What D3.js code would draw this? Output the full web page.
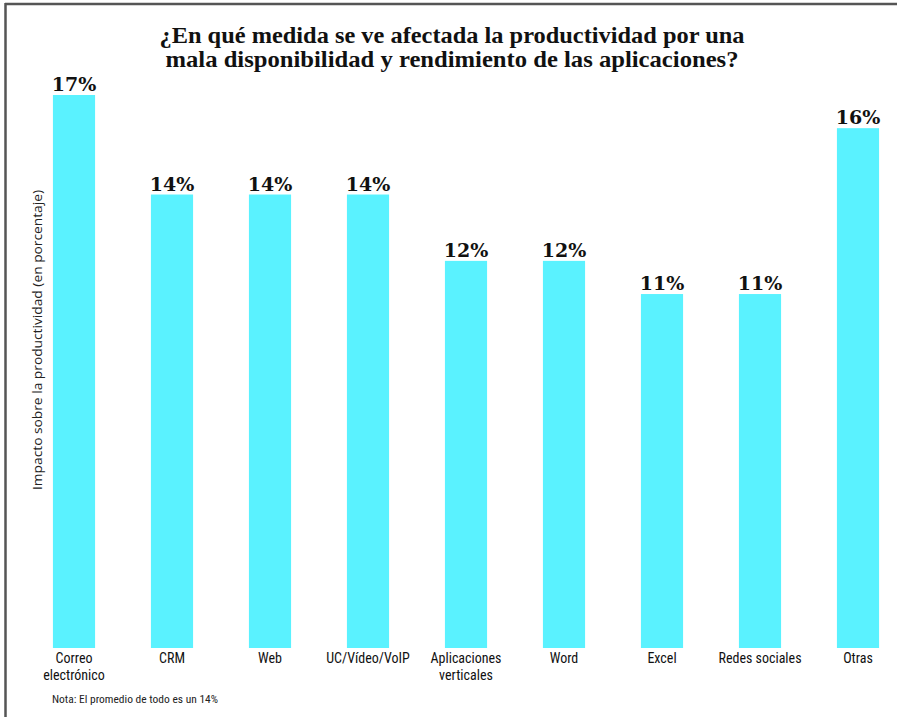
<!DOCTYPE html>
<html><head><meta charset="utf-8">
<script src="https://cdn.jsdelivr.net/npm/d3@7"></script>
<style>body{margin:0;background:#fff}svg{display:block}</style>
</head><body>
<svg id="c" width="897" height="717"></svg>
<script>
const categories = [["Correo","electrónico"],["CRM"],["Web"],["UC/Vídeo/VoIP"],["Aplicaciones","verticales"],["Word"],["Excel"],["Redes sociales"],["Otras"]];
const values = [17,14,14,14,12,12,11,11,16];
const titleLines = ["¿En qué medida se ve afectada la productividad por una","mala disponibilidad y rendimiento de las aplicaciones?"];
const yLabel = "Impacto sobre la productividad (en porcentaje)";
const note = "Nota: El promedio de todo es un 14%";

const svg = d3.select("#c");
// frame
svg.append("line").attr("x1",5).attr("x2",897).attr("y1",4).attr("y2",4).attr("stroke","#555").attr("stroke-width",2.5);
svg.append("line").attr("x1",5.5).attr("x2",5.5).attr("y1",3).attr("y2",717).attr("stroke","#555").attr("stroke-width",2.5);

const x = d3.scaleBand().domain(d3.range(categories.length)).range([25,907]).paddingInner(0.57).paddingOuter(0.285);
const y = d3.scaleLinear().domain([0.33,17]).range([648,95]);

svg.selectAll("rect.bar").data(values).join("rect").attr("class","bar")
  .attr("x",(d,i)=>x(i)).attr("width",x.bandwidth())
  .attr("y",d=>y(d)).attr("height",d=>648-y(d))
  .attr("fill","#5af2ff");

svg.selectAll("text.val").data(values).join("text").attr("class","val")
  .attr("x",(d,i)=>x(i)+x.bandwidth()/2).attr("y",d=>y(d)-4)
  .attr("text-anchor","middle")
  .attr("font-family","DejaVu Serif").attr("font-weight","bold").attr("font-size",19)
  .attr("fill","#111").text(d=>d+"%");

const xl = svg.selectAll("text.cat").data(categories).join("text").attr("class","cat")
  .attr("x",(d,i)=>x(i)+x.bandwidth()/2).attr("y",663)
  .attr("text-anchor","middle")
  .attr("font-family","'Liberation Sans Narrow','Roboto Condensed',sans-serif").attr("font-size",14)
  .attr("fill","#111");
xl.selectAll("tspan").data(d=>d).join("tspan")
  .attr("x",function(){return this.parentNode.getAttribute("x");})
  .attr("dy",(d,i)=>i===0?0:17).text(d=>d);

svg.append("text").attr("transform","translate(42,340) rotate(-90)")
  .attr("text-anchor","middle").attr("font-family","'Open Sans',sans-serif").attr("font-size",13)
  .attr("fill","#222").attr("textLength",300).attr("lengthAdjust","spacingAndGlyphs").text(yLabel);

svg.append("text").attr("x",52).attr("y",703)
  .attr("font-family","'Liberation Sans Narrow','Roboto Condensed',sans-serif").attr("font-size",11)
  .attr("fill","#222").attr("textLength",166).attr("lengthAdjust","spacingAndGlyphs").text(note);

svg.selectAll("text.title").data(titleLines).join("text").attr("class","title")
  .attr("x",452).attr("y",(d,i)=>43+i*24)
  .attr("text-anchor","middle")
  .attr("font-family","'Liberation Serif',serif").attr("font-weight","bold").attr("font-size",23)
  .attr("fill","#111")
  .attr("textLength",(d,i)=>i===0?585:573).attr("lengthAdjust","spacingAndGlyphs")
  .text(d=>d);
</script>
</body></html>
